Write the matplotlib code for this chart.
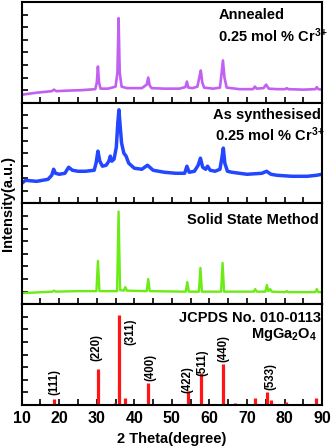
import matplotlib
matplotlib.use('Agg')
import matplotlib.pyplot as plt
from matplotlib.ticker import MultipleLocator

plt.rcParams['font.family'] = ['Liberation Sans', 'DejaVu Sans']
plt.rcParams['font.weight'] = 'bold'
plt.rcParams['mathtext.default'] = 'regular'

# --- data (intensity as % of panel height) ---
anneal_x = [10, 14, 18, 18.6, 19.2, 22, 26, 29.6, 30.0, 30.3, 30.6, 31.0, 33, 35.0, 35.5, 35.8,
            36.1, 36.6, 38, 42, 43.3, 43.7, 44.1, 44.6, 48, 52, 53.6, 54.0, 54.4, 55.5, 56.8,
            57.3, 57.7, 58.1, 58.6, 61, 62.8, 63.2, 63.6, 64.0, 64.6, 68, 71.6, 72.1, 72.6,
            74.4, 75.1, 75.8, 78, 80.2, 80.6, 81.0, 85, 88.2, 88.6, 89.0, 90]
anneal_y = [8, 10, 11.5, 13, 11.5, 12, 12.5, 13.5, 20, 36, 20, 14, 14, 16, 30, 84,
            30, 16, 14.5, 14.5, 18, 25, 17, 14.5, 14, 14, 15.5, 21, 15, 14.5, 16,
            25, 32, 20, 15, 14, 15, 28, 42, 25, 15, 13.5, 13.5, 16, 14,
            14.5, 18, 14, 13.5, 13.5, 14.5, 13.5, 13, 13.5, 15.5, 13.5, 13]

synth_x = [10, 11, 14, 17, 18.0, 18.5, 19.0, 20, 21.5, 22.5, 23.5, 25, 27, 29.3, 29.8, 30.3,
           30.8, 31.5, 32.5, 33.2, 33.6, 34.0, 34.6, 35.2, 35.6, 35.9, 36.2, 36.6, 37.2, 37.8,
           38.5, 40, 42, 43.5, 45, 48, 51, 53.4, 54.0, 54.6, 56, 57.0, 57.6, 58.2, 59.0, 59.5,
           60.2, 61.5, 62.8, 63.3, 63.7, 64.1, 64.8, 66, 70, 74, 75.2, 76.4, 78, 82, 86, 88.5, 90]
synth_y = [20, 23, 22, 24, 28, 34, 30, 29, 30, 36, 33, 32, 32, 33, 40, 52,
           42, 37, 38, 42, 47, 42, 44, 56, 80, 93, 78, 60, 50, 47,
           40, 35, 34, 38, 33, 31, 30, 30, 37, 31, 32, 38, 45, 36, 34, 37,
           33, 32, 34, 45, 55, 40, 32, 31, 29, 30, 32, 29, 28, 27, 27, 28, 29]

solid_x = [10, 18.2, 18.6, 19.0, 25, 29.9, 30.3, 30.7, 35.4, 35.8, 36.2, 37.2, 37.6, 38.0,
           43.3, 43.7, 44.1, 53.7, 54.1, 54.5, 57.2, 57.6, 58.0, 63.1, 63.5, 63.9, 71.8, 72.2,
           72.6, 74.9, 75.3, 75.7, 76.2, 76.6, 80.2, 80.6, 81.0, 88.2, 88.6, 89.0, 90]
solid_y = [11, 12.5, 13.5, 12.5, 13, 13, 43, 13, 13, 92, 14, 13.5, 17, 13.5,
           13, 25, 13, 12.5, 22, 12.5, 12.5, 36, 12.5, 12.5, 41, 12.5, 12.5, 15,
           12.5, 12.5, 19, 13, 15, 12.5, 12, 13, 12, 12, 15, 12, 12]

ref_pos = [18.6, 30.4, 34.9, 35.9, 37.5, 43.7, 54.2, 57.7, 63.5, 66.8, 72.1, 75.3, 76.3, 80.4, 88.5]
ref_int = [6, 36, 2, 89, 7, 22, 14, 32, 41, 2, 7, 13, 5, 3, 7]

hkl = ['(111)', '(220)', '(311)', '(400)', '(422)', '(511)', '(440)', '(533)']
hkl_pos = [18.6, 30.0, 38.9, 44.4, 54.0, 58.0, 63.7, 76.2]
hkl_mid = [22.8, 57.4, 72.3, 37.6, 24.8, 41.6, 56.4, 28.7]

fig = plt.figure(figsize=(3.31, 4.47), dpi=100)
gs = fig.add_gridspec(4, 1, left=0.0656, right=0.973, top=0.9955, bottom=0.094, hspace=0)
axes = [fig.add_subplot(gs[i]) for i in range(4)]

for ax in axes:
    ax.set_xlim(10, 90)
    ax.set_ylim(0, 100)
    ax.xaxis.set_major_locator(MultipleLocator(10))
    ax.xaxis.set_minor_locator(MultipleLocator(5))
    ax.yaxis.set_major_locator(MultipleLocator(12.5))
    ax.tick_params(which='both', direction='in', top=False, right=False, width=1.2, length=4)
    ax.tick_params(axis='y', labelleft=False)
    for s in ax.spines.values():
        s.set_linewidth(1.5)
for ax in axes[:3]:
    ax.tick_params(axis='x', labelbottom=False)
axes[3].tick_params(axis='x', labelsize=11.5, pad=4)
for lab in axes[3].get_xticklabels():
    lab.set_fontweight('bold')

axes[0].plot(anneal_x, anneal_y, color='#c260f2', lw=1.9)
axes[1].plot(synth_x, synth_y, color='#2346ff', lw=2.5)
axes[2].plot(solid_x, solid_y, color='#6aec14', lw=1.7)
axes[3].vlines(ref_pos, 0, ref_int, color='#ff1515', lw=2.3)

for name, xp, yp in zip(hkl, hkl_pos, hkl_mid):
    axes[3].text(xp, yp, name, rotation=90, ha='center', va='center', fontsize=8.3)

axes[0].text(0.655, 0.94, 'Annealed', transform=axes[0].transAxes, fontsize=10.5, va='top')
axes[0].text(0.655, 0.76, r'0.25 mol % Cr$^{3\!+}$', transform=axes[0].transAxes,
             fontsize=10.5, va='top')
axes[1].text(0.637, 0.95, 'As synthesised', transform=axes[1].transAxes, fontsize=10.5, va='top')
axes[1].text(0.643, 0.78, r'0.25 mol % Cr$^{3\!+}$', transform=axes[1].transAxes,
             fontsize=10.5, va='top')
axes[2].text(0.988, 0.91, 'Solid State Method', transform=axes[2].transAxes, fontsize=10.5,
             va='top', ha='right')
axes[3].text(0.998, 0.93, 'JCPDS No. 010-0113', transform=axes[3].transAxes, fontsize=10.5,
             va='top', ha='right')
axes[3].text(0.982, 0.78, r'MgGa$_2$O$_4$', transform=axes[3].transAxes, fontsize=10.5,
             va='top', ha='right')

axes[3].set_xlabel('2 Theta(degree)', fontsize=10.5, fontweight='bold', labelpad=5)
fig.text(0.025, 0.545, 'Intensity(a.u.)', rotation=90, ha='center', va='center',
         fontsize=10.5, fontweight='bold')

fig.savefig('out.png', dpi=100)
